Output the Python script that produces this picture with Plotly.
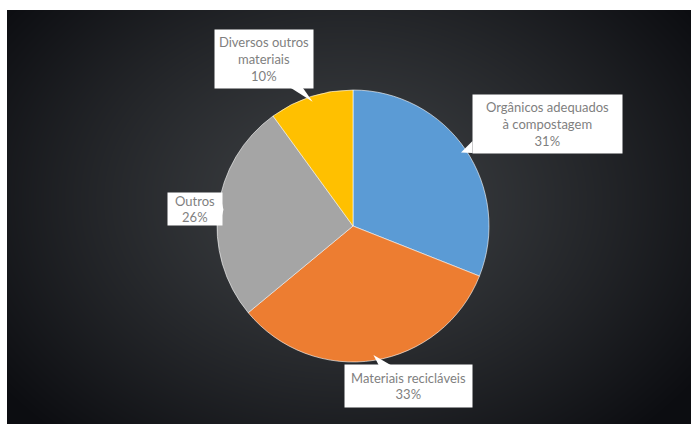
import base64, struct, zlib, math
import numpy as np
import plotly.graph_objects as go

labels = ["Orgânicos adequados<br>à compostagem", "Materiais recicláveis", "Outros", "Diversos outros<br>materiais"]
values = [31, 33, 26, 10]
colors = ["#5B9BD5", "#ED7D31", "#A5A5A5", "#FFC000"]

W, H = 698, 432

# --- background radial gradient as PNG data URI ---
bx0, by0, bx1, by1 = 7, 10, 691, 424
bw, bh = bx1 - bx0, by1 - by0
yy, xx = np.mgrid[0:bh, 0:bw]
cx, cy = 345 - bx0, 200 - by0
t = np.sqrt(((xx - cx) / 430.0) ** 2 + ((yy - cy) / 320.0) ** 2)
t = np.clip(t, 0, 1) ** 1.2
c0 = np.array([62, 65, 68], dtype=float)
c1 = np.array([12, 13, 17], dtype=float)
img = (c0[None, None, :] * (1 - t[..., None]) + c1[None, None, :] * t[..., None]).astype(np.uint8)
raw = b"".join(b"\x00" + img[r].tobytes() for r in range(bh))
def chunk(tag, data):
    return struct.pack(">I", len(data)) + tag + data + struct.pack(">I", zlib.crc32(tag + data) & 0xffffffff)
png = b"\x89PNG\r\n\x1a\n" + chunk(b"IHDR", struct.pack(">IIBBBBB", bw, bh, 8, 2, 0, 0, 0)) \
      + chunk(b"IDAT", zlib.compress(raw, 9)) + chunk(b"IEND", b"")
uri = "data:image/png;base64," + base64.b64encode(png).decode()

# --- pie geometry ---
pcx, pcy, R = 353, 226, 136
dom_x = [(pcx - R) / W, (pcx + R) / W]
dom_y = [1 - (pcy + R) / H, 1 - (pcy - R) / H]

fig = go.Figure(go.Pie(
    values=values, labels=labels, sort=False, direction="clockwise", rotation=0,
    marker=dict(colors=colors, line=dict(color="rgba(255,255,255,0.6)", width=1)),
    textinfo="none", hoverinfo="label+percent", showlegend=False,
    domain=dict(x=dom_x, y=dom_y),
))

# label boxes: centre (px) and size
box_center = [(547, 124), (408, 386), (195, 209), (264, 59)]
box_size = [(149, 58), (127, 42), (54, 32), (98, 58)]

def P(x, y):
    return f"{x / W:.5f},{1 - y / H:.5f}"

total = sum(values)
cum = 0
annotations, shapes = [], []
for lab, v, (bxc, byc), (bwid, bhei) in zip(labels, values, box_center, box_size):
    mid = (cum + v / 2) / total * 2 * math.pi
    cum += v
    px = pcx + R * 0.96 * math.sin(mid)
    py = pcy - R * 0.96 * math.cos(mid)
    dx, dy = px - bxc, py - byc
    hw, hh = bwid / 2, bhei / 2
    half = 6
    if abs(dx) / hw > abs(dy) / hh:
        ex = bxc + math.copysign(hw, dx)
        ey = byc + dy * hw / abs(dx)
        ey = min(max(ey, byc - hh + half), byc + hh - half)
        b1, b2 = (ex, ey - half), (ex, ey + half)
    else:
        ey = byc + math.copysign(hh, dy)
        ex = bxc + dx * hh / abs(dy)
        ex = min(max(ex, bxc - hw + half), bxc + hw - half)
        b1, b2 = (ex - half, ey), (ex + half, ey)
    shapes.append(dict(type="path", xref="paper", yref="paper",
                       path=f"M{P(*b1)} L{P(px, py)} L{P(*b2)} Z",
                       fillcolor="white", line=dict(width=0), layer="above"))
    annotations.append(dict(
        x=bxc / W, y=1 - byc / H, xref="paper", yref="paper",
        xanchor="center", yanchor="middle",
        text=f"{lab}<br>{v}%", showarrow=False,
        bgcolor="white", borderpad=0, width=bwid, height=bhei,
        font=dict(family="Lato, Open Sans, sans-serif", size=13, color="#7f7f7f"),
        align="center", valign="middle",
    ))

fig.update_layout(
    width=W, height=H, margin=dict(l=0, r=0, t=0, b=0),
    paper_bgcolor="white", plot_bgcolor="white",
    images=[dict(source=uri, xref="paper", yref="paper", x=bx0 / W, y=1 - by0 / H,
                 sizex=bw / W, sizey=bh / H, xanchor="left", yanchor="top",
                 sizing="stretch", layer="below")],
    annotations=annotations, shapes=shapes,
)
fig.write_html("out.html")
